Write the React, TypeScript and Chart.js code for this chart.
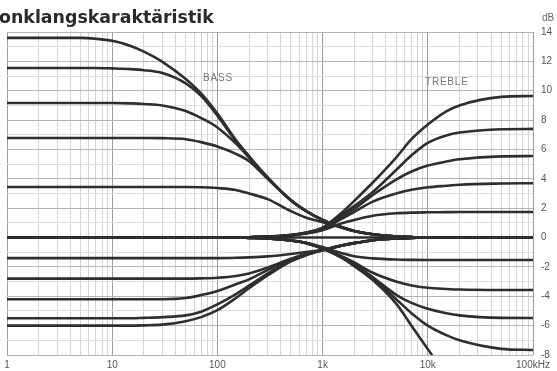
import { useEffect, useRef } from "react";
import { Chart, registerables } from "chart.js";

Chart.register(...registerables);

// Frequency grid (Hz) shared by every response curve
const FREQS = [1, 5, 7, 10, 15, 20, 30, 50, 70, 100, 150, 200, 300, 500, 700, 1000, 1500, 2000, 3000, 5000, 7000, 10000, 15000, 20000, 50000, 100000];

// Bass control, boost positions (dB)
const BASS_BOOST_1 = [13.6, 13.6, 13.54, 13.4, 13.05, 12.66, 11.97, 10.8, 9.82, 8.45, 6.65, 5.55, 4.1, 2.55, 1.8, 1.2, 0.72, 0.45, 0.22, 0.08, 0.03, 0, 0, 0, 0, 0];
const BASS_BOOST_2 = [11.55, 11.55, 11.55, 11.52, 11.47, 11.4, 11.2, 10.5, 9.65, 8.3, 6.55, 5.5, 4.08, 2.54, 1.8, 1.2, 0.72, 0.45, 0.22, 0.08, 0.03, 0, 0, 0, 0, 0];
const BASS_BOOST_3 = [9.16, 9.16, 9.16, 9.16, 9.14, 9.1, 9.0, 8.62, 8.14, 7.5, 6.4, 5.45, 4.06, 2.53, 1.79, 1.2, 0.72, 0.45, 0.22, 0.08, 0.03, 0, 0, 0, 0, 0];
const BASS_BOOST_4 = [6.78, 6.78, 6.78, 6.78, 6.78, 6.78, 6.77, 6.7, 6.5, 6.2, 5.7, 5.2, 4.0, 2.52, 1.79, 1.2, 0.72, 0.45, 0.22, 0.08, 0.03, 0, 0, 0, 0, 0];
const BASS_BOOST_5 = [3.44, 3.44, 3.44, 3.44, 3.44, 3.44, 3.44, 3.44, 3.43, 3.37, 3.24, 3.0, 2.62, 1.8, 1.35, 1.05, 0.68, 0.43, 0.21, 0.07, 0.03, 0, 0, 0, 0, 0];

// Flat setting
const FLAT = [0, 0, 0, 0, 0, 0, 0, 0, 0, 0, 0, 0, 0, 0, 0, 0, 0, 0, 0, 0, 0, 0, 0, 0, 0, 0];

// Bass control, cut positions (dB)
const BASS_CUT_1 = [-1.4, -1.4, -1.4, -1.4, -1.4, -1.4, -1.4, -1.4, -1.4, -1.4, -1.38, -1.35, -1.28, -1.12, -0.98, -0.84, -0.55, -0.38, -0.18, -0.06, -0.02, 0, 0, 0, 0, 0];
const BASS_CUT_2 = [-2.8, -2.8, -2.8, -2.8, -2.8, -2.8, -2.8, -2.8, -2.78, -2.74, -2.62, -2.45, -2.05, -1.45, -1.1, -0.85, -0.55, -0.38, -0.18, -0.06, -0.02, 0, 0, 0, 0, 0];
const BASS_CUT_3 = [-4.2, -4.2, -4.2, -4.2, -4.2, -4.2, -4.2, -4.12, -3.92, -3.64, -3.18, -2.85, -2.22, -1.48, -1.12, -0.86, -0.55, -0.38, -0.18, -0.06, -0.02, 0, 0, 0, 0, 0];
const BASS_CUT_4 = [-5.5, -5.5, -5.5, -5.5, -5.5, -5.47, -5.42, -5.3, -5.05, -4.55, -3.85, -3.28, -2.45, -1.55, -1.14, -0.87, -0.56, -0.38, -0.18, -0.06, -0.02, 0, 0, 0, 0, 0];
const BASS_CUT_5 = [-6.0, -6.0, -6.0, -6.0, -6.0, -5.98, -5.93, -5.7, -5.42, -4.95, -4.12, -3.45, -2.58, -1.62, -1.2, -0.88, -0.56, -0.38, -0.18, -0.06, -0.02, 0, 0, 0, 0, 0];

// Treble control, boost positions (dB)
const TREBLE_BOOST_1 = [0, 0, 0, 0, 0, 0, 0, 0, 0, 0, 0, 0.02, 0.06, 0.18, 0.35, 0.68, 1.65, 2.5, 3.75, 5.45, 6.7, 7.7, 8.6, 9.0, 9.58, 9.64];
const TREBLE_BOOST_2 = [0, 0, 0, 0, 0, 0, 0, 0, 0, 0, 0, 0.02, 0.06, 0.17, 0.33, 0.66, 1.5, 2.15, 3.1, 4.6, 5.6, 6.45, 6.95, 7.15, 7.38, 7.4];
const TREBLE_BOOST_3 = [0, 0, 0, 0, 0, 0, 0, 0, 0, 0, 0, 0.02, 0.06, 0.16, 0.32, 0.62, 1.4, 1.95, 2.9, 3.95, 4.5, 4.9, 5.18, 5.33, 5.53, 5.55];
const TREBLE_BOOST_4 = [0, 0, 0, 0, 0, 0, 0, 0, 0, 0, 0, 0.02, 0.06, 0.16, 0.3, 0.58, 1.25, 1.75, 2.45, 3.0, 3.25, 3.42, 3.53, 3.6, 3.68, 3.7];
const TREBLE_BOOST_5 = [0, 0, 0, 0, 0, 0, 0, 0, 0, 0, 0, 0.02, 0.05, 0.14, 0.27, 0.5, 0.95, 1.2, 1.48, 1.65, 1.7, 1.72, 1.73, 1.74, 1.74, 1.74];

// Treble control, cut positions (dB)
const TREBLE_CUT_1 = [0, 0, 0, 0, 0, 0, 0, 0, 0, 0, 0, -0.02, -0.06, -0.18, -0.35, -0.65, -1.05, -1.28, -1.42, -1.5, -1.52, -1.53, -1.53, -1.53, -1.53, -1.53];
const TREBLE_CUT_2 = [0, 0, 0, 0, 0, 0, 0, 0, 0, 0, 0, -0.02, -0.06, -0.19, -0.37, -0.72, -1.25, -1.7, -2.4, -3.0, -3.27, -3.42, -3.5, -3.54, -3.57, -3.57];
const TREBLE_CUT_3 = [0, 0, 0, 0, 0, 0, 0, 0, 0, 0, 0, -0.02, -0.06, -0.2, -0.38, -0.75, -1.3, -1.8, -2.7, -3.9, -4.45, -4.85, -5.15, -5.3, -5.47, -5.48];
const TREBLE_CUT_4 = [0, 0, 0, 0, 0, 0, 0, 0, 0, 0, 0, -0.02, -0.06, -0.2, -0.38, -0.75, -1.35, -1.9, -2.8, -4.2, -5.15, -6.0, -6.65, -7.0, -7.58, -7.66];
const TREBLE_CUT_5 = [0, 0, 0, 0, 0, 0, 0, 0, 0, 0, 0, -0.02, -0.06, -0.2, -0.38, -0.75, -1.35, -1.95, -2.9, -4.5, -6.0, -7.6, -9.4, -10.8, -15, -18];

const CURVES = [
  BASS_BOOST_1, BASS_BOOST_2, BASS_BOOST_3, BASS_BOOST_4, BASS_BOOST_5,
  FLAT,
  BASS_CUT_1, BASS_CUT_2, BASS_CUT_3, BASS_CUT_4, BASS_CUT_5,
  TREBLE_BOOST_1, TREBLE_BOOST_2, TREBLE_BOOST_3, TREBLE_BOOST_4, TREBLE_BOOST_5,
  TREBLE_CUT_1, TREBLE_CUT_2, TREBLE_CUT_3, TREBLE_CUT_4, TREBLE_CUT_5,
];

// Axis ticks
const X_DECADES = [1, 10, 100, 1000, 10000, 100000];
const X_DECADE_LABELS = ["1", "10", "100", "1k", "10k", "100kHz"];
const Y_MIN = -8;
const Y_MAX = 14;

const TITLE = "onklangskaraktäristik";
const UNIT = "dB";
// In-plot captions placed at data coordinates (Hz, dB)
const CAPTIONS = [
  { text: "BASS", f: 73, db: 10.85 },
  { text: "TREBLE", f: 9400, db: 10.55 },
];

const FONT = "'Liberation Sans', Arial, sans-serif";
const TITLE_FONT = "'DejaVu Sans', sans-serif";

const isDecade = (v: number) => Math.abs(Math.log10(v) - Math.round(Math.log10(v))) < 1e-9;

const xGridValues: number[] = [];
for (let d = 0; d < X_DECADES.length - 1; d++) {
  for (let m = 1; m <= 9; m++) xGridValues.push(X_DECADES[d] * m);
}
xGridValues.push(X_DECADES[X_DECADES.length - 1]);

const yGridValues: number[] = [];
for (let v = Y_MIN; v <= Y_MAX; v++) yGridValues.push(v);

const overlay = {
  id: "overlay",
  afterDraw(chart: any) {
    const { ctx, scales } = chart;
    ctx.save();
    ctx.fillStyle = "#2a2a2a";
    ctx.font = `bold 17.4px ${TITLE_FONT}`;
    ctx.textAlign = "left";
    ctx.textBaseline = "alphabetic";
    ctx.fillText(TITLE, -1, 23);

    ctx.fillStyle = "#666";
    ctx.font = `10px ${FONT}`;
    ctx.fillText(UNIT, 542, 21);

    ctx.fillStyle = "#777";
    ctx.font = `10px ${FONT}`;
    ctx.textBaseline = "middle";
    (ctx as any).letterSpacing = "0.8px";
    for (const c of CAPTIONS) {
      ctx.fillText(c.text, scales.x.getPixelForValue(c.f), scales.y.getPixelForValue(c.db));
    }
    ctx.restore();
  },
};

export default function App() {
  const canvasRef = useRef<HTMLCanvasElement | null>(null);

  useEffect(() => {
    const canvas = canvasRef.current;
    if (!canvas) return;
    const chart = new Chart(canvas, {
      type: "line",
      data: {
        datasets: CURVES.map((c) => ({
          data: FREQS.map((f, i) => ({ x: f, y: c[i] })),
          borderColor: "#2e2e2e",
          borderWidth: 2.6,
          pointRadius: 0,
          cubicInterpolationMode: "monotone" as const,
          fill: false,
          clip: 0,
        })),
      },
      options: {
        animation: false,
        responsive: false,
        events: [],
        layout: { padding: { left: 7, top: 32, right: 0, bottom: 0 } },
        plugins: { legend: { display: false }, tooltip: { enabled: false }, title: { display: false } },
        scales: {
          x: {
            type: "logarithmic",
            min: X_DECADES[0],
            max: X_DECADES[X_DECADES.length - 1],
            afterBuildTicks: (s: any) => {
              s.ticks = xGridValues.map((v) => ({ value: v }));
            },
            afterFit: (s: any) => {
              s.height = 16;
            },
            border: { display: false },
            grid: {
              drawTicks: false,
              lineWidth: 1,
              color: (ctx: any) => (ctx.tick && isDecade(ctx.tick.value) ? "#9c9c9c" : "#d4d4d4"),
            },
            ticks: {
              autoSkip: false,
              maxRotation: 0,
              padding: 4,
              color: "#555",
              font: { size: 10, family: FONT },
              callback: (v: any) => {
                const idx = X_DECADES.findIndex((d) => Math.abs(d - Number(v)) < 1e-6);
                return idx >= 0 ? X_DECADE_LABELS[idx] : "";
              },
            },
          },
          y: {
            type: "linear",
            position: "right",
            min: Y_MIN,
            max: Y_MAX,
            afterBuildTicks: (s: any) => {
              s.ticks = yGridValues.map((v) => ({ value: v }));
            },
            afterFit: (s: any) => {
              s.width = 24;
            },
            border: { display: false },
            grid: {
              drawTicks: false,
              lineWidth: 1,
              color: (ctx: any) => (ctx.tick && ctx.tick.value % 2 === 0 ? "#b4b4b4" : "#dedede"),
            },
            ticks: {
              autoSkip: false,
              padding: 8,
              color: "#555",
              font: { size: 10, family: FONT },
              callback: (v: any) => (Number(v) % 2 === 0 ? String(v) : ""),
            },
          },
        },
      },
      plugins: [overlay],
    });
    return () => chart.destroy();
  }, []);

  return (
    <div style={{ position: "absolute", left: 0, top: 0, width: 557, height: 371, background: "#fff" }}>
      <canvas ref={canvasRef} width={557} height={371} style={{ display: "block" }} />
    </div>
  );
}
